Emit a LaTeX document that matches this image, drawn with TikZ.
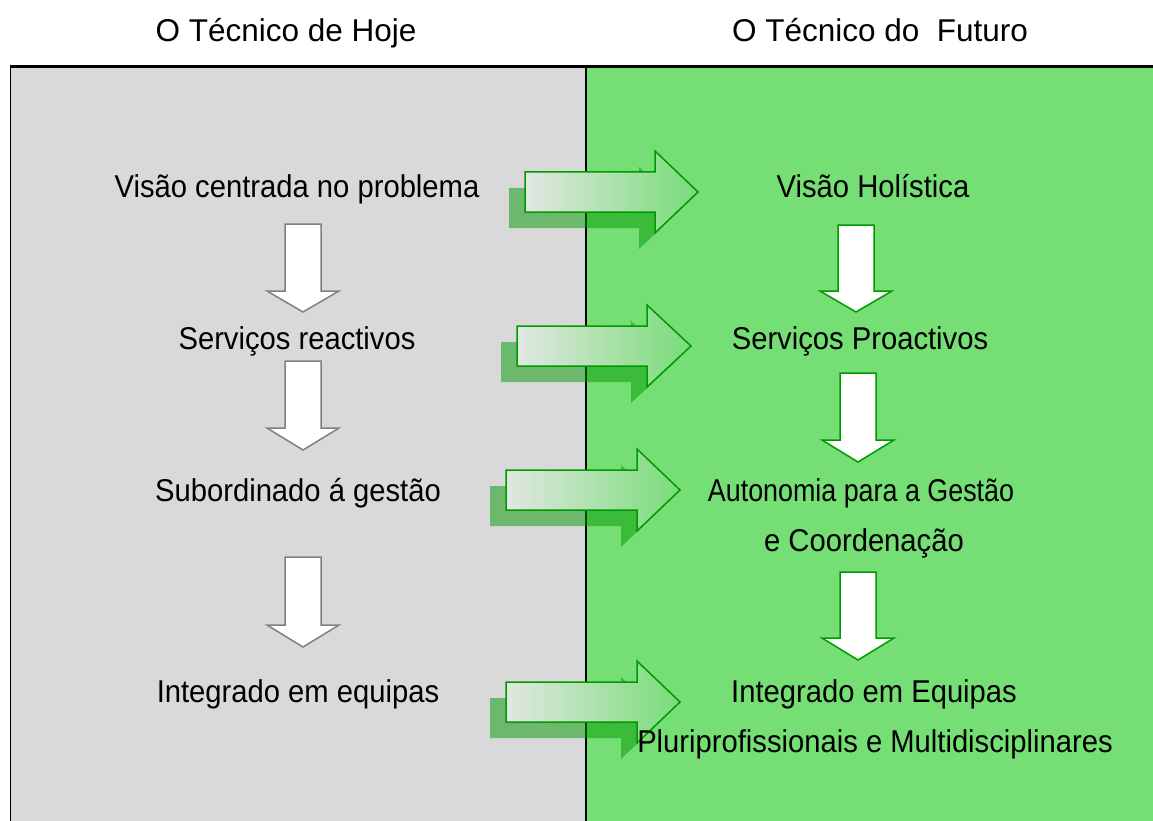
\documentclass[tikz,border=0pt]{standalone}
\usepackage{fontspec}
\setmainfont{Liberation Sans}
\definecolor{panelgray}{RGB}{217,217,217}
\definecolor{panelgreen}{RGB}{117,222,117}
\definecolor{arrowgreen}{RGB}{0,153,0}
\definecolor{arrowgray}{RGB}{128,128,128}
\definecolor{shadeL}{RGB}{226,231,226}
\definecolor{shadeM}{RGB}{185,227,185}
\definecolor{shadeR}{RGB}{120,220,120}
\newcommand{\rarrowpath}[4]{% L, Yc, H, X
  (#1,#2-20) -- (#3,#2-20) -- (#3,#2-41) -- (#4,#2) -- (#3,#2+41) -- (#3,#2+20) -- (#1,#2+20) -- cycle}
\newcommand{\darrowpath}[4]{% cx, top, headstart, tip
  (#1-18,#2) -- (#1+18,#2) -- (#1+18,#3) -- (#1+36,#3) -- (#1,#4) -- (#1-36,#3) -- (#1-18,#3) -- cycle}
\newcommand{\bigrarrow}[4]{%
  \fill[arrowgreen,opacity=0.5,shift={(-16,16)}] \rarrowpath{#1}{#2}{#3}{#4};
  \path[rightarrowstyle] \rarrowpath{#1}{#2}{#3}{#4};}
\newcommand{\tall}[1]{\scalebox{1}[1.08]{#1}}
\begin{document}
\begin{tikzpicture}[x=1pt,y=-1pt,
  rightarrowstyle/.style={draw=arrowgreen,line width=1.5pt,line join=miter,
    left color=shadeL,middle color=shadeM,right color=shadeR,shading angle=90},
  grayarrow/.style={draw=arrowgray,line width=1.5pt,fill=white,line join=miter},
  greenarrow/.style={draw=arrowgreen,line width=1.5pt,fill=white,line join=miter},
  titletext/.style={anchor=base,font=\fontsize{31.5}{36}\selectfont,inner sep=0pt},
  bodytext/.style={anchor=base,font=\fontsize{29.2}{34}\selectfont,inner sep=0pt}]
\useasboundingbox (0,0) rectangle (1153,821);
\fill[white] (0,0) rectangle (1153,821);
% panels
\fill[panelgray] (10,66) rectangle (586,821);
\fill[panelgreen] (586,66) rectangle (1153,821);
\draw[line width=2.2pt] (10,66.5) -- (1153,66.5);
\draw[line width=1.5pt] (10.5,66) -- (10.5,821);
\draw[line width=2pt] (586,66) -- (586,821);
% titles
\node[titletext] (t1) at (286,42) {O Técnico de Hoje};
\node[titletext] (t2) at (880,42) {O Técnico do\ \ Futuro};
% horizontal arrows
\bigrarrow{525}{192}{655}{698}
\bigrarrow{517}{346}{647}{691}
\bigrarrow{506}{490}{637}{680}
\bigrarrow{506}{702}{637}{680}
% down arrows left
\path[grayarrow] \darrowpath{303}{224}{291}{312};
\path[grayarrow] \darrowpath{303}{361}{428}{450};
\path[grayarrow] \darrowpath{303}{557}{625}{647};
% down arrows right
\path[greenarrow] \darrowpath{856}{225}{291}{312};
\path[greenarrow] \darrowpath{858}{373}{440}{462};
\path[greenarrow] \darrowpath{858}{572}{638}{660};
% texts left
\node[bodytext] (l1) at (297,197) {\tall{Visão centrada no problema}};
\node[bodytext] (l2) at (297,349) {\tall{Serviços reactivos}};
\node[bodytext] (l3) at (298,501) {\tall{Subordinado á gestão}};
\node[bodytext] (l4) at (298,702) {\tall{Integrado em equipas}};
% texts right
\node[bodytext] (r1) at (873,197) {\tall{Visão Holística}};
\node[bodytext] (r2) at (860,349) {\tall{Serviços Proactivos}};
\node[bodytext] (r3) at (861,501) {\scalebox{0.92}[1.08]{Autonomia para a Gestão}};
\node[bodytext] (r3b) at (864,551) {\tall{e Coordenação}};
\node[bodytext] (r4) at (874,702) {\tall{Integrado em Equipas}};
\node[bodytext] (r4b) at (875,752) {\tall{Pluriprofissionais e Multidisciplinares}};
\end{tikzpicture}
\end{document}
